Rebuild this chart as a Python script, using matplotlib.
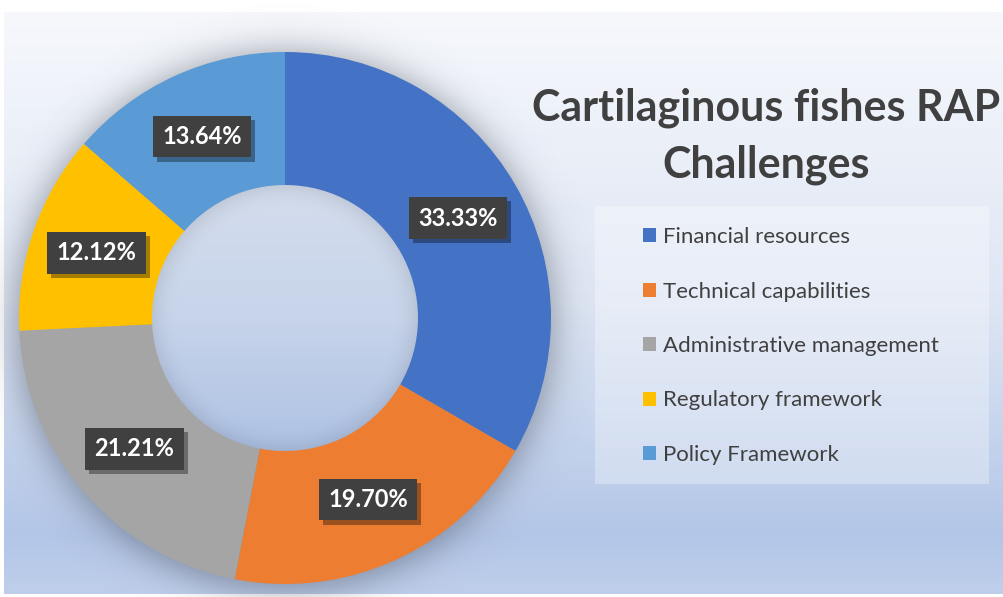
import numpy as np
import matplotlib
matplotlib.use("Agg")
import matplotlib.pyplot as plt
from matplotlib.patches import Rectangle, Patch, Circle
from matplotlib import patheffects

categories = ["Financial resources", "Technical capabilities", "Administrative management",
              "Regulatory framework", "Policy Framework"]
shares = [33.33, 19.70, 21.21, 12.12, 13.64]
colors = ["#4472C4", "#ED7D31", "#A5A5A5", "#FFC000", "#5B9BD5"]
title = "Cartilaginous fishes RAP\nChallenges"

W, H = 1004, 597
plt.rcParams['font.family'] = ['Lato', 'DejaVu Sans']

fig = plt.figure(figsize=(W / 100, H / 100), dpi=100, facecolor="white")
ax = fig.add_axes([0, 0, 1, 1])

# background gradient panel
ys = np.linspace(0, 1, 300)
stops = [0, 0.5, 0.9, 1.0]
cols = np.array([[246, 248, 252], [222, 230, 244], [179, 198, 231], [191, 207, 235]]) / 255
grad = np.stack([np.interp(ys, stops, cols[:, i]) for i in range(3)], axis=1)[:, None, :]
ax.imshow(grad, extent=(4, W, 3, H - 12), aspect="auto", origin="upper", zorder=0)

# donut geometry
cx, cy, R = 285, H - 318, 266
r_in = R / 2

# soft shadow behind the ring
pad = 70
gx = np.linspace(cx - R - pad, cx + R + pad, 400)
gy = np.linspace(cy - R - pad, cy + R + pad, 400)
XX, YY = np.meshgrid(gx, gy)
d = np.hypot(XX - cx, YY - (cy - 3))
s = 10.0
a = 1 / (1 + np.exp((d - R - 5) / s))
sh = np.zeros(XX.shape + (4,))
sh[..., 0] = 0.25
sh[..., 1] = 0.27
sh[..., 2] = 0.32
sh[..., 3] = np.clip(a, 0, 1) * 0.45
ax.imshow(sh, extent=(gx[0], gx[-1], gy[0], gy[-1]), origin="lower", zorder=1, aspect="auto")

# hole: own vertical gradient with slight edge darkening
hy = np.linspace(0, 1, 300)
hcols = np.array([[212, 221, 237], [199, 212, 234], [174, 194, 228]]) / 255
hg = np.stack([np.interp(hy, [0, 0.5, 1], hcols[:, i]) for i in range(3)], axis=1)
hx = np.linspace(-1, 1, 300)
HX, HY = np.meshgrid(hx, np.linspace(-1, 1, 300))
rr = np.hypot(HX, HY)
shade = 1 - 0.08 * np.clip((rr - 0.8) / 0.2, 0, 1) ** 2
hole = hg[:, None, :] * shade[..., None]
im = ax.imshow(np.clip(hole, 0, 1), extent=(cx - r_in, cx + r_in, cy - r_in, cy + r_in),
               origin="upper", zorder=1.5, aspect="auto")
im.set_clip_path(Circle((cx, cy), r_in + 1, transform=ax.transData))

wedges, texts, autotexts = ax.pie(
    shares, colors=colors, startangle=90, counterclock=False,
    center=(cx, cy), radius=R, wedgeprops=dict(width=R - r_in, linewidth=0),
    autopct=lambda p: f"{p:.2f}%", pctdistance=0.75)
for w in wedges:
    w.set_zorder(2)
for t in autotexts:
    t.set_color("white")
    t.set_fontweight("bold")
    t.set_fontsize(17)
    t.set_zorder(5)
    t.set_bbox(dict(boxstyle="square,pad=0.4", facecolor="#404040", edgecolor="none"))
    t.get_bbox_patch().set_path_effects(
        [patheffects.withSimplePatchShadow(offset=(3, -3), shadow_rgbFace="black", alpha=0.35)])

ax.set_xlim(0, W)
ax.set_ylim(0, H)
ax.set_aspect("auto")
ax.axis("off")

# title
ax.text(766, H - 136, title, ha="center", va="center", fontsize=31, fontweight="bold",
        color="#404040", linespacing=1.5, zorder=6)

# legend box
ax.add_patch(Rectangle((595, H - 484), 394, 278, facecolor="white", alpha=0.3,
                       edgecolor="none", zorder=3))
handles = [Patch(facecolor=c, edgecolor="none") for c in colors]
leg = ax.legend(handles, categories, loc="upper left", frameon=False,
                bbox_to_anchor=(632 / W, 1 - 216 / H), bbox_transform=fig.transFigure,
                fontsize=16, labelspacing=1.55, handlelength=0.6, handleheight=0.6,
                handletextpad=0.3, borderpad=0, labelcolor="#404040")
leg.set_zorder(6)

fig.savefig("out.png", dpi=100, facecolor="white")
